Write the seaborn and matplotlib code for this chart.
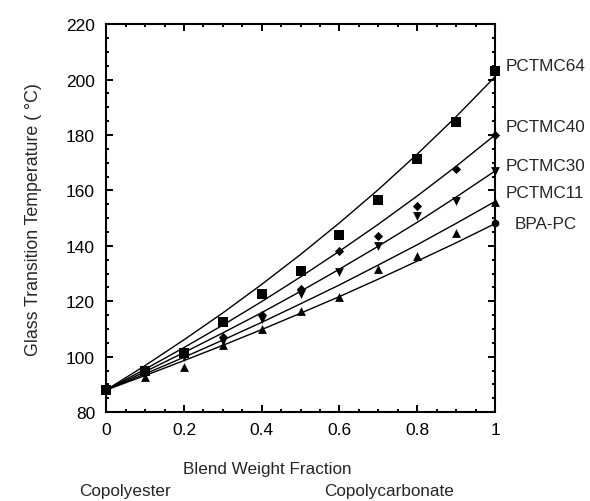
import matplotlib
matplotlib.use("Agg")
import matplotlib.pyplot as plt
import seaborn as sns
import numpy as np
import pandas as pd
from matplotlib.ticker import MultipleLocator, FuncFormatter

# ---- data ----
w_curve = [0.0, 0.1, 0.2, 0.3, 0.4, 0.5, 0.6, 0.7, 0.8, 0.9, 1.0]
curve_pctmc64 = [88, 96.8, 106.1, 115.8, 126.1, 136.9, 148.3, 160.3, 173.1, 186.6, 201.0]
curve_pctmc40 = [88, 95.5, 103.3, 111.4, 119.9, 128.8, 138.1, 147.8, 158.0, 168.7, 180.0]
curve_pctmc30 = [88, 94.6, 101.5, 108.6, 115.9, 123.6, 131.6, 139.9, 148.5, 157.6, 167.0]
curve_pctmc11 = [88, 93.8, 99.8, 106.0, 112.4, 119.1, 125.9, 133.1, 140.4, 148.1, 156.0]
curve_bpapc = [88, 93.2, 98.6, 104.1, 109.8, 115.7, 121.7, 128.0, 134.5, 141.1, 148.0]

w_pts = [0.0, 0.1, 0.2, 0.3, 0.4, 0.5, 0.6, 0.7, 0.8, 0.9, 1.0]
pts_pctmc64 = [88, 94.7, 101.5, 112.7, 122.8, 131.0, 144.0, 156.4, 171.3, 184.8, 203.0]
w_pts_b = [0.1, 0.2, 0.3, 0.4, 0.5, 0.6, 0.7, 0.8, 0.9, 1.0]
pts_pctmc40 = [94.5, 101.5, 107.2, 115.0, 124.6, 138.2, 143.6, 154.2, 167.9, 180.1]
pts_pctmc30 = [93.5, 100.0, 105.7, 113.6, 122.6, 130.4, 139.8, 150.8, 156.0, 167.1]
w_pts_c = [0.1, 0.2, 0.3, 0.4, 0.5, 0.6, 0.7, 0.8, 0.9]
pts_blend_up = [92.5, 96.4, 104.3, 110.0, 116.6, 121.7, 131.6, 136.4, 144.5]
pure_pctmc11 = 155.7
pure_bpapc = 148.2

labels = ["PCTMC64", "PCTMC40", "PCTMC30", "PCTMC11", "BPA-PC"]
label_y = [204.9, 183.2, 169.1, 159.4, 148.2]
label_x = [1.028, 1.028, 1.028, 1.028, 1.05]

# ---- plot ----
sns.set_style("ticks")
plt.rcParams["font.family"] = ["Liberation Sans", "DejaVu Sans"]
plt.rcParams["font.size"] = 12.5

fig = plt.figure(figsize=(5.9, 5.02), dpi=100)
ax = fig.add_axes([0.18, 0.177, 0.659, 0.773])

for c in [curve_pctmc64, curve_pctmc40, curve_pctmc30, curve_pctmc11, curve_bpapc]:
    sns.lineplot(x=w_curve, y=c, ax=ax, color="black", linewidth=1.0)

kw = dict(color="black", edgecolor="black", linewidth=0, ax=ax, clip_on=False, zorder=5)
sns.scatterplot(x=w_pts, y=pts_pctmc64, marker="s", s=55, **kw)
sns.scatterplot(x=w_pts_b, y=pts_pctmc40, marker="D", s=22, **kw)
sns.scatterplot(x=w_pts_b, y=pts_pctmc30, marker="v", s=40, **kw)
sns.scatterplot(x=w_pts_c, y=pts_blend_up, marker="^", s=40, **kw)
sns.scatterplot(x=[1.0], y=[pure_pctmc11], marker="^", s=40, **kw)
sns.scatterplot(x=[1.0], y=[pure_bpapc], marker="o", s=30, **kw)

for lab, lx, ly in zip(labels, label_x, label_y):
    ax.text(lx, ly, lab, transform=ax.transData, ha="left", va="center", fontsize=12.3, clip_on=False)

ax.set_xlim(0, 1)
ax.set_ylim(80, 220)
ax.xaxis.set_major_locator(MultipleLocator(0.2))
ax.xaxis.set_minor_locator(MultipleLocator(0.05))
ax.yaxis.set_major_locator(MultipleLocator(20))
ax.yaxis.set_minor_locator(MultipleLocator(5))
ax.xaxis.set_major_formatter(FuncFormatter(lambda v, p: f"{v:g}"))
ax.tick_params(which="both", direction="in", top=True, right=True, width=1.4, labelsize=12.5, colors="black")
ax.tick_params(which="major", length=5)
ax.tick_params(which="minor", length=2.5)
ax.tick_params(axis="y", which="major", pad=8)
ax.tick_params(axis="x", which="major", pad=7)
for s in ax.spines.values():
    s.set_linewidth(1.5)
    s.set_color("black")

ax.set_ylabel("Glass Transition Temperature ( \u00b0C)", fontsize=12.8, labelpad=17)
ax.set_xlabel("")
fig.text(0.4525, 0.064, "Blend Weight Fraction", ha="center", va="center", fontsize=12.3)
fig.text(0.212, 0.02, "Copolyester", ha="center", va="center", fontsize=12.3)
fig.text(0.659, 0.02, "Copolycarbonate", ha="center", va="center", fontsize=12.3)

fig.savefig("out.png", dpi=100)
